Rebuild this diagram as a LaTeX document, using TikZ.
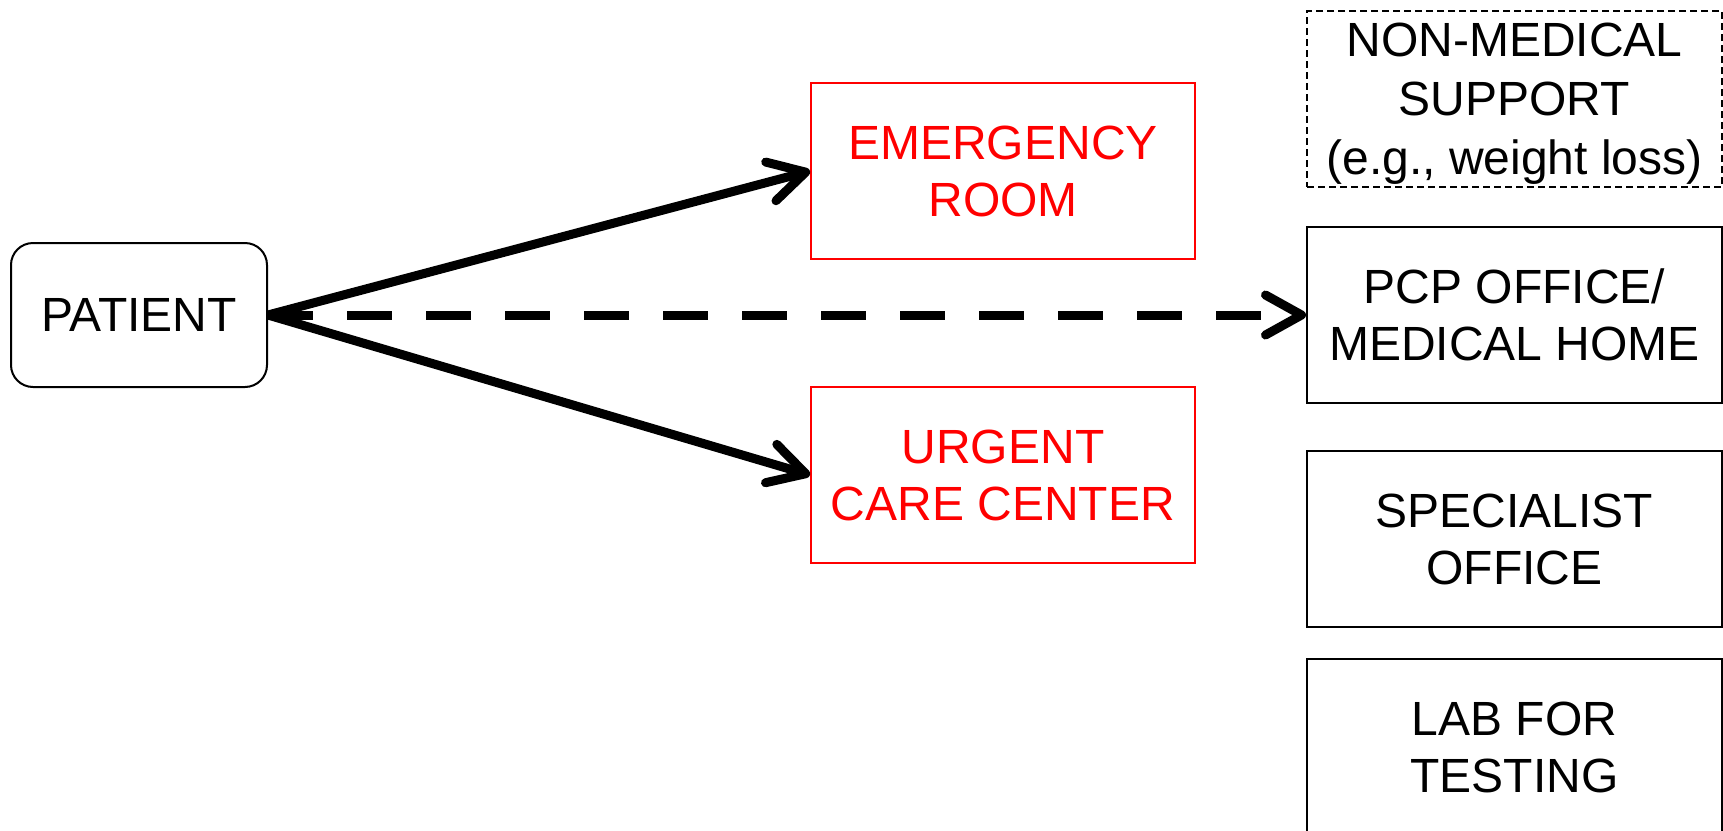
\documentclass[tikz,border=0pt]{standalone}
\usepackage{fontspec}
\setmainfont{Liberation Sans}
\usetikzlibrary{arrows.meta}
\definecolor{alertred}{RGB}{255,0,0}

\begin{document}
\begin{tikzpicture}[x=1pt,y=-1pt,
  box/.style={draw, line width=2pt, minimum width=384pt, minimum height=176pt,
    align=center, inner sep=0pt, font=\fontsize{48}{57}\selectfont},
  sidebox/.style={box, minimum width=415pt},
  urgentbox/.style={box, draw=alertred, text=alertred},
  softbox/.style={sidebox, line width=1.3pt, dash pattern=on 7pt off 4pt,
    font=\fontsize{48}{59}\selectfont, text depth=0pt},
  startbox/.style={box, minimum width=256pt, minimum height=144pt, rounded corners=22pt},
  route/.style={line width=9pt,
    -{Straight Barb[length=36pt, width=40pt, round]}},
  usualroute/.style={route, dash pattern=on 45pt off 34pt}]

\useasboundingbox (0,0) rectangle (1723,830);

% where the patient starts
\node[startbox] (patient) at (139,315) {PATIENT};

% acute-care settings
\node[urgentbox] (er) at (1003,171) {EMERGENCY\\ROOM};
\node[urgentbox] (ucc) at (1003,475) {URGENT\\CARE CENTER};

% other points of care
\node[softbox] (support) at (1514.5,99) {NON-MEDICAL\\SUPPORT\\(e.g., weight loss)};
\node[sidebox] (pcp) at (1514.5,315) {PCP OFFICE/\\MEDICAL HOME};
\node[sidebox] (spec) at (1514.5,539) {SPECIALIST\\OFFICE};
\node[sidebox] (lab) at (1514.5,747) {LAB FOR\\TESTING};

% routes out of the patient box
\draw[route] (patient.east) -- (er.west);
\draw[route] (patient.east) -- (ucc.west);
\draw[usualroute] (patient.east) -- (pcp.west);
\end{tikzpicture}
\end{document}
